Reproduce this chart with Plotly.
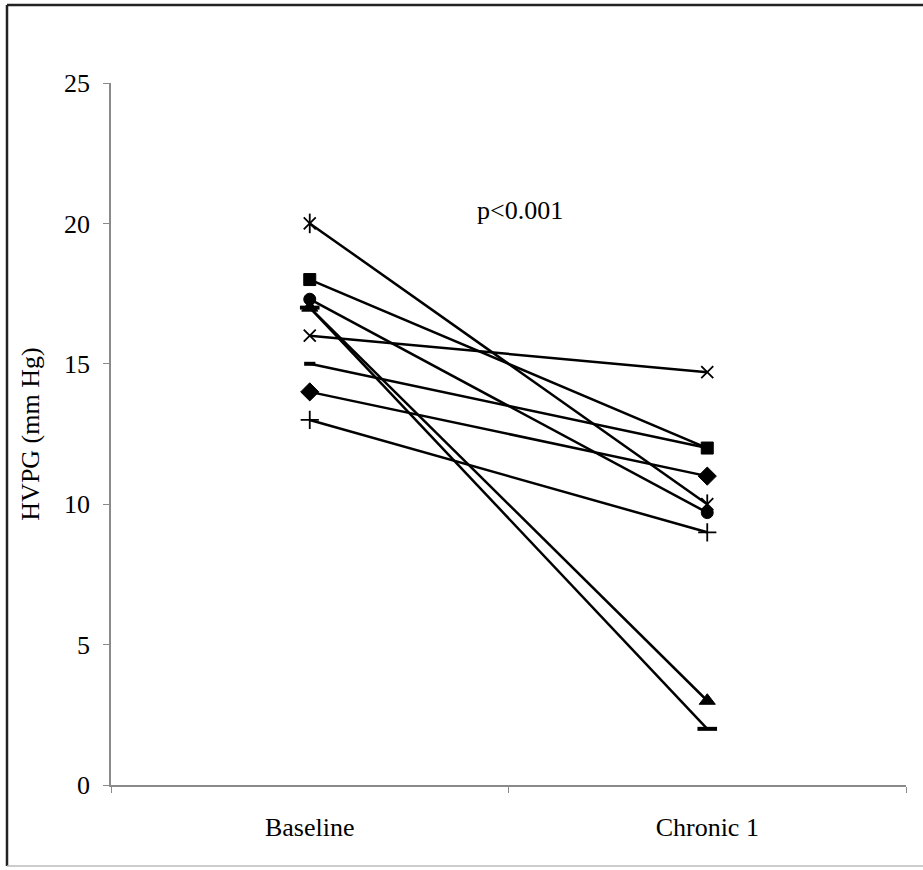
import plotly.graph_objects as go

# Hepatic venous pressure gradient per patient, baseline vs. chronic 1
categories = ["Baseline", "Chronic 1"]
diamond = [14, 11]
square = [18, 12]
triangle = [17, 3]
cross_x = [16, 14.7]
asterisk = [20, 10]
circle = [17.3, 9.7]
plus = [13, 9]
short_dash = [15, 12]
long_dash = [17, 2]
y_ticks = [0, 5, 10, 15, 20, 25]

FONT = "Liberation Serif, Times New Roman, serif"
INK = "black"
AXIS = "#8a8a8a"
FS = 26

fig = go.Figure()


def add_series(values, symbol, size, lw=1.0, show_line=True):
    fig.add_trace(go.Scatter(
        x=categories, y=values,
        mode="lines+markers" if show_line else "markers",
        line=dict(color=INK, width=2.5),
        marker=dict(symbol=symbol, size=size, color=INK,
                    line=dict(color=INK, width=lw)),
        showlegend=False, hoverinfo="x+y",
    ))


add_series(long_dash, "line-ew", 14, lw=4)
add_series(diamond, "diamond", 14)
add_series(square, "square", 12)
add_series(triangle, "triangle-up", 14)
add_series(cross_x, "x-thin", 12, lw=1.8)
add_series(asterisk, "x-thin", 12, lw=1.8)
add_series(asterisk, "line-ns", 14, lw=1.8, show_line=False)
add_series(circle, "circle", 12)
add_series(plus, "cross-thin", 13, lw=1.8)
add_series(short_dash, "line-ew", 8, lw=4)

fig.add_annotation(x=0.53, y=20.45, xref="x", yref="y", text="p<0.001",
                   showarrow=False, font=dict(family=FONT, size=FS, color=INK))

# Frame around the whole figure (left, top, bottom edges)
L, R, T, B = 111, 17, 83, 85
W, H = 923, 870
pw, ph = W - L - R, H - T - B


def px(x):
    return (x - L) / pw


def py(y):
    return (H - B - y) / ph


frame = dict(type="line", xref="paper", yref="paper",
             line=dict(color="#222222", width=2.5))
fig.add_shape(**frame, x0=px(7), x1=px(7), y0=py(5), y1=py(866))
fig.add_shape(**frame, x0=px(7), x1=px(923), y0=py(5), y1=py(5))
fig.add_shape(**dict(frame, line=dict(color="#bbbbbb", width=1.5)),
              x0=px(7), x1=px(923), y0=py(866), y1=py(866))

fig.update_layout(
    width=W, height=H,
    margin=dict(l=L, r=R, t=T, b=B),
    paper_bgcolor="white", plot_bgcolor="white",
    font=dict(family=FONT, color=INK),
    xaxis=dict(
        type="category", range=[-0.5, 1.5],
        tickson="boundaries", ticks="outside", ticklen=6,
        tickcolor=AXIS, tickwidth=1.2,
        showline=True, linecolor=AXIS, linewidth=1.5,
        showgrid=False, zeroline=False,
        ticklabelstandoff=18,
        tickfont=dict(family=FONT, size=FS, color=INK),
    ),
    yaxis=dict(
        range=[0, 25], tickvals=y_ticks,
        ticks="outside", ticklen=6, tickcolor=AXIS, tickwidth=1.2,
        showline=True, linecolor=AXIS, linewidth=1.5,
        showgrid=False, zeroline=False,
        ticklabelstandoff=8,
        tickfont=dict(family=FONT, size=FS, color=INK),
        title=dict(text="HVPG (mm Hg)", standoff=17,
                   font=dict(family=FONT, size=FS, color=INK)),
    ),
)

fig.write_html("out.html")
